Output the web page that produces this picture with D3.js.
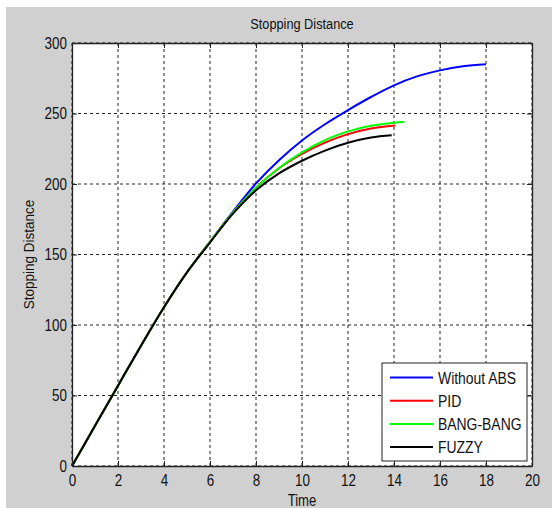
<!DOCTYPE html>
<html>
<head>
<meta charset="utf-8">
<script src="https://cdn.jsdelivr.net/npm/d3@7"></script>
<style>
  body { margin: 0; background: #fff; }
  text { font-family: "Liberation Sans", Arial, sans-serif; fill: #111; }
</style>
</head>
<body>
<svg id="svg1"></svg>
<script>
// values
var timeNoAbs = [0,1,2,3,4,5,6,7,8,9,10,11,12,13,14,15,16,17,18];
var withoutAbs = [0,28.5,57,85.3,112.6,137.4,159,180.4,200.4,216.9,230.9,242.4,252.4,261.7,270,276.3,280.6,283.5,285];
var timePid = [0,1,2,3,4,5,6,7,8,9,10,11,12,13,14.05];
var pid = [0,28.5,57,85.3,112.6,137.4,158.9,179.7,197.4,211.2,221.4,229.4,235.4,239.4,241.5];
var timeBang = [0,1,2,3,4,5,6,7,8,9,10,11,12,13,14,14.45];
var bangBang = [0,28.5,57,85.3,112.6,137.4,158.9,179.7,197.4,211.4,222.4,231.1,237.3,241.3,243.5,244];
var timeFuzzy = [0,1,2,3,4,5,6,7,8,9,10,11,12,13,13.9];
var fuzzy = [0,28.5,57,85.3,112.6,137.3,158.5,179,195.5,207.5,216.5,223.7,229.2,232.9,234.5];

var seriesNames = ["Without ABS", "PID", "BANG-BANG", "FUZZY"];
var seriesColors = ["#0000ff", "#ff0000", "#00ff00", "#000000"];
var xTicks = [0,2,4,6,8,10,12,14,16,18,20];
var yTicks = [0,50,100,150,200,250,300];

var W = 552, H = 508;
var margin = {left: 72, top: 43, right: 20, bottom: 42};
var width = W - margin.left - margin.right;
var height = H - margin.top - margin.bottom;

var svg = d3.select('#svg1').attr('width', W).attr('height', H);

// grey figure background
svg.append('rect')
  .attr('x', 6).attr('y', 7)
  .attr('width', W - 6).attr('height', H - 7)
  .attr('fill', '#d0d0d0');

var g = svg.append('g')
  .attr('transform', 'translate(' + margin.left + ',' + margin.top + ')');

var x = d3.scaleLinear().domain([0, 20]).range([0, width]);
var y = d3.scaleLinear().domain([0, 300]).range([height, 0]);

g.append('rect')
  .attr('width', width).attr('height', height)
  .attr('fill', '#fff');

// dotted grid
g.selectAll('.vgrid')
  .data(xTicks)
  .enter().append('line')
  .attr('x1', function(d) { return x(d); })
  .attr('x2', function(d) { return x(d); })
  .attr('y1', 0).attr('y2', height)
  .attr('stroke', '#222').attr('stroke-width', 1)
  .attr('stroke-dasharray', '3,3');

g.selectAll('.hgrid')
  .data(yTicks)
  .enter().append('line')
  .attr('y1', function(d) { return y(d); })
  .attr('y2', function(d) { return y(d); })
  .attr('x1', 0).attr('x2', width)
  .attr('stroke', '#222').attr('stroke-width', 1)
  .attr('stroke-dasharray', '3,3');

// lines
var series = [
  {name: seriesNames[0], t: timeNoAbs, v: withoutAbs},
  {name: seriesNames[1], t: timePid, v: pid},
  {name: seriesNames[2], t: timeBang, v: bangBang},
  {name: seriesNames[3], t: timeFuzzy, v: fuzzy}
];

var line = d3.line()
  .x(function(d) { return x(d[0]); })
  .y(function(d) { return y(d[1]); })
  .curve(d3.curveCatmullRom.alpha(0.5));

series.forEach(function(s, i) {
  g.append('path')
    .datum(s.t.map(function(t, j) { return [t, s.v[j]]; }))
    .attr('fill', 'none')
    .attr('stroke', seriesColors[i])
    .attr('stroke-width', 2)
    .attr('d', line);
});

// axes, ticks pointing inward
var xAxis = g.append('g')
  .attr('transform', 'translate(0,' + height + ')')
  .call(d3.axisBottom(x).tickValues(xTicks).tickSize(-5).tickSizeOuter(0));
xAxis.selectAll('text').attr('y', 20).attr('dy', null).attr('class', 'tick-label');

var yAxis = g.append('g')
  .call(d3.axisLeft(y).tickValues(yTicks).tickSize(-5).tickSizeOuter(0).tickPadding(5));
yAxis.selectAll('text').attr('dy', '0.34em').attr('class', 'tick-label');

g.append('g')
  .call(d3.axisTop(x).tickValues(xTicks).tickSize(-5).tickSizeOuter(0).tickFormat(''));
g.append('g')
  .attr('transform', 'translate(' + width + ',0)')
  .call(d3.axisRight(y).tickValues(yTicks).tickSize(-5).tickSizeOuter(0).tickFormat(''));

g.selectAll('.domain').attr('stroke', '#222').attr('stroke-width', 1.3);
g.selectAll('.tick line').attr('stroke', '#222');
g.selectAll('.tick text').attr('font-size', 16).attr('fill', '#222')
  .attr('font-family', '"Liberation Sans", Arial, sans-serif');

// labels
svg.append('text')
  .attr('class', 'title')
  .attr('x', margin.left + width / 2).attr('y', 28.5)
  .attr('text-anchor', 'middle')
  .attr('font-size', 14)
  .text('Stopping Distance');

svg.append('text')
  .attr('class', 'xlabel')
  .attr('x', margin.left + width / 2).attr('y', 506)
  .attr('text-anchor', 'middle')
  .attr('font-size', 16)
  .text('Time');

svg.append('text')
  .attr('class', 'ylabel')
  .attr('transform', 'translate(34,' + (margin.top + height / 2) + ') rotate(-90)')
  .attr('text-anchor', 'middle')
  .attr('font-size', 15)
  .text('Stopping Distance');

// legend
var legend = svg.append('g').attr('transform', 'translate(382,363)');
legend.append('rect')
  .attr('width', 145).attr('height', 98)
  .attr('fill', '#fff').attr('stroke', '#222').attr('stroke-width', 1);

var rows = legend.selectAll('.row')
  .data(seriesNames)
  .enter().append('g')
  .attr('transform', function(d, i) { return 'translate(0,' + (14.5 + i * 23.2) + ')'; });
rows.append('line')
  .attr('x1', 8).attr('x2', 51)
  .attr('stroke', function(d, i) { return seriesColors[i]; })
  .attr('stroke-width', 2);
rows.append('text')
  .attr('class', 'legend-label')
  .attr('x', 56).attr('y', 6)
  .attr('font-size', 16)
  .text(function(d) { return d; });

// the source picture has narrow glyphs, squeeze text horizontally
function squeeze(sel, k) {
  sel.each(function() {
    var len = this.getComputedTextLength();
    d3.select(this)
      .attr('textLength', len * k)
      .attr('lengthAdjust', 'spacingAndGlyphs');
  });
}
squeeze(svg.selectAll('.tick-label'), 0.84);
squeeze(svg.selectAll('.legend-label'), 0.87);
squeeze(svg.selectAll('.xlabel'), 0.82);
squeeze(svg.selectAll('.title'), 0.91);
squeeze(svg.selectAll('.ylabel'), 0.9);
</script>
</body>
</html>
